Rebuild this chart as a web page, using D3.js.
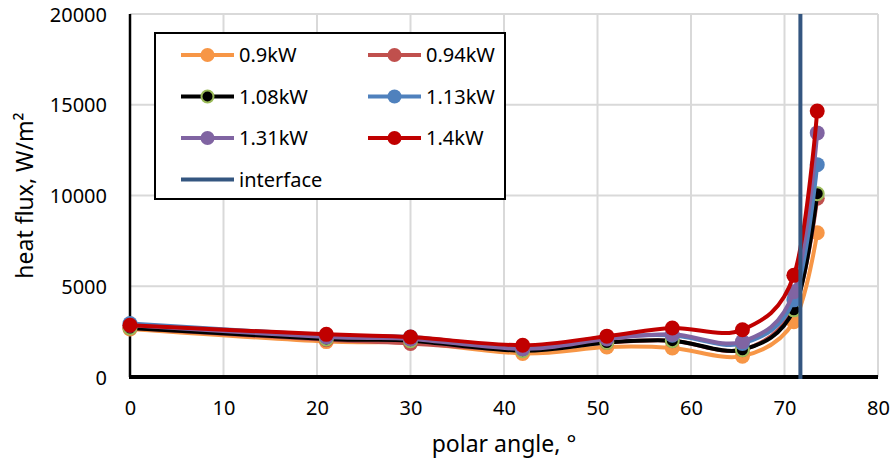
<!DOCTYPE html>
<html>
<head>
<meta charset="utf-8">
<script src="https://cdn.jsdelivr.net/npm/d3@7"></script>
<style>
  html, body { margin: 0; padding: 0; background: #fff; }
  svg { display: block; }
  text { font-family: "Noto Sans", "Open Sans", sans-serif; fill: #000; }
</style>
</head>
<body>
<svg id="chart" width="890" height="463"></svg>
<script>
// polar angle of each measurement point, degrees
const angles = [0, 21, 30, 42, 51, 58, 65.5, 71, 73.5];

// heat flux, W/m², one array per heater power
const flux09  = [2650, 1950, 1900, 1300, 1650, 1600, 1150, 3050, 7950];
const flux094 = [2700, 2050, 1850, 1500, 1900, 2000, 1500, 3800, 9850];
const flux108 = [2700, 2100, 2000, 1450, 1900, 2000, 1500, 3700, 10100];
const flux113 = [2950, 2300, 2200, 1650, 2200, 2300, 1850, 4250, 11700];
const flux131 = [2850, 2200, 2100, 1550, 2100, 2350, 1950, 4700, 13450];
const flux14  = [2850, 2350, 2200, 1750, 2250, 2700, 2600, 5600, 14650];

const seriesNames = ["0.9kW", "0.94kW", "1.08kW", "1.13kW", "1.31kW", "1.4kW"];
const seriesValues = [flux09, flux094, flux108, flux113, flux131, flux14];

// interface position, degrees
const interfaceAngle = 71.7;

const xTicks = [0, 10, 20, 30, 40, 50, 60, 70, 80];
const yTicks = [0, 5000, 10000, 15000, 20000];

const lineColors   = ["#f79646", "#c0504d", "#000000", "#4f81bd", "#8064a2", "#c00000"];
const markerFill   = ["#f79646", "#c0504d", "#000000", "#4f81bd", "#8064a2", "#c00000"];
const markerStroke = ["#f79646", "#c0504d", "#9bbb59", "#4f81bd", "#8064a2", "#c00000"];
const interfaceColor = "#345680";

const svg = d3.select("#chart");
const plot = { left: 130, right: 878, top: 14, bottom: 377 };

const x = d3.scaleLinear().domain([0, 80]).range([plot.left, plot.right]);
const y = d3.scaleLinear().domain([0, 20000]).range([plot.bottom, plot.top]);

// gridlines
const grid = svg.append("g");
grid.selectAll("line.v").data(xTicks.slice(1)).join("line")
  .attr("x1", d => x(d)).attr("x2", d => x(d))
  .attr("y1", plot.top).attr("y2", plot.bottom)
  .attr("stroke", "#d9d9d9").attr("stroke-width", 2);
grid.selectAll("line.h").data(yTicks.slice(1)).join("line")
  .attr("x1", plot.left).attr("x2", plot.right)
  .attr("y1", d => y(d)).attr("y2", d => y(d))
  .attr("stroke", "#d9d9d9").attr("stroke-width", 2);

// axes
const xAxis = d3.axisBottom(x).tickValues(xTicks).tickSize(0).tickPadding(24)
  .tickFormat(d3.format("d"));
const yAxis = d3.axisLeft(y).tickValues(yTicks).tickSize(0).tickPadding(23)
  .tickFormat(d3.format("d"));

const gx = svg.append("g").attr("transform", `translate(0,${plot.bottom})`).call(xAxis);
gx.select(".domain").remove();
gx.selectAll("text").style("font-size", "20px");

const gy = svg.append("g").attr("transform", `translate(${plot.left},0)`).call(yAxis);
gy.select(".domain").remove();
gy.selectAll("text").style("font-size", "20px").attr("dy", "0.35em");

svg.append("line")
  .attr("x1", plot.left).attr("x2", plot.left)
  .attr("y1", plot.top).attr("y2", plot.bottom)
  .attr("stroke", "#000").attr("stroke-width", 2.5);

// series
const line = d3.line()
  .x(d => x(d[0])).y(d => y(d[1]))
  .curve(d3.curveCatmullRom.alpha(0));

const seriesG = svg.append("g");
seriesValues.forEach((vals, i) => {
  const pts = angles.map((a, k) => [a, vals[k]]);
  const g = seriesG.append("g");
  g.append("path").datum(pts)
    .attr("d", line).attr("fill", "none")
    .attr("stroke", lineColors[i]).attr("stroke-width", 4)
    .attr("stroke-linejoin", "round");
  g.selectAll("circle").data(pts).join("circle")
    .attr("cx", d => x(d[0])).attr("cy", d => y(d[1]))
    .attr("r", i === 2 ? 6.5 : 7.5)
    .attr("fill", markerFill[i])
    .attr("stroke", markerStroke[i]).attr("stroke-width", i === 2 ? 2 : 0);
});

// x axis line on top of the curves
svg.append("line")
  .attr("x1", plot.left - 1).attr("x2", plot.right)
  .attr("y1", plot.bottom).attr("y2", plot.bottom)
  .attr("stroke", "#000").attr("stroke-width", 4);

// interface
svg.append("line")
  .attr("x1", x(interfaceAngle)).attr("x2", x(interfaceAngle))
  .attr("y1", y(20000)).attr("y2", y(0) + 2)
  .attr("stroke", interfaceColor).attr("stroke-width", 4);

// axis titles
svg.append("text")
  .attr("x", (plot.left + plot.right) / 2).attr("y", 452)
  .attr("text-anchor", "middle").style("font-size", "23px")
  .text("polar angle, °");

svg.append("text")
  .attr("transform", `translate(33,${(plot.top + plot.bottom) / 2}) rotate(-90)`)
  .attr("text-anchor", "middle").style("font-size", "23px")
  .text("heat flux, W/m²");

// legend
const legend = svg.append("g");
legend.append("rect")
  .attr("x", 155).attr("y", 33).attr("width", 350).attr("height", 166)
  .attr("fill", "#fff").attr("stroke", "#000").attr("stroke-width", 2);

const legendItems = seriesNames.map((n, i) => ({ name: n, i }));
const colX = [181, 368];
const rowY = [55, 96.5, 138, 179.5];

legendItems.forEach(({ name, i }) => {
  const cx = colX[i % 2], cy = rowY[Math.floor(i / 2)];
  const g = legend.append("g");
  g.append("line").attr("x1", cx).attr("x2", cx + 53).attr("y1", cy).attr("y2", cy)
    .attr("stroke", lineColors[i]).attr("stroke-width", 4);
  g.append("circle").attr("cx", cx + 26.5).attr("cy", cy)
    .attr("r", i === 2 ? 6 : 7)
    .attr("fill", markerFill[i]).attr("stroke", markerStroke[i])
    .attr("stroke-width", i === 2 ? 2 : 0);
  g.append("text").attr("x", cx + 58).attr("y", cy).attr("dy", "0.35em")
    .style("font-size", "20px").text(name);
});

legend.append("line").attr("x1", colX[0]).attr("x2", colX[0] + 53)
  .attr("y1", rowY[3]).attr("y2", rowY[3])
  .attr("stroke", interfaceColor).attr("stroke-width", 4);
legend.append("text").attr("x", colX[0] + 58).attr("y", rowY[3]).attr("dy", "0.35em")
  .style("font-size", "20px").text("interface");
</script>
</body>
</html>
